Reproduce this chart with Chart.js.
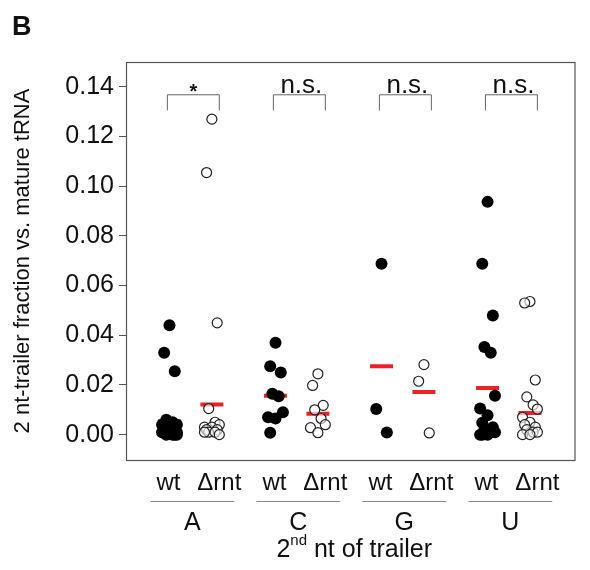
<!DOCTYPE html>
<html>
<head>
<meta charset="utf-8">
<script src="https://cdn.jsdelivr.net/npm/chart.js@4/dist/chart.umd.min.js"></script>
<style>
  body { margin: 0; background: #fff; }
  #wrap { width: 590px; height: 570px; }
</style>
</head>
<body>
<div id="wrap"><canvas id="chart" width="590" height="570"></canvas></div>
<script>
// Groups (2nd nt of trailer) and the two strains
const groups = ['A', 'C', 'G', 'U'];
const strains = ['wt', '\u0394rnt'];
const sigLabels = ['*', 'n.s.', 'n.s.', 'n.s.'];
const yTicks = [0, 0.02, 0.04, 0.06, 0.08, 0.10, 0.12, 0.14];

// Values
const aWt = [0.044, 0.033, 0.0255, 0.006, 0.005, 0.004, 0.004, 0.003, 0.003, 0.002, 0.002, 0.002, 0.001, 0.001, 0.001, 0.001, 0.000, 0.000, 0.000, 0.000];
const aRnt = [0.127, 0.1055, 0.045, 0.0105, 0.005, 0.004, 0.003, 0.003, 0.002, 0.002, 0.001, 0.001, 0.000, 0.001];
const cWt = [0.037, 0.0275, 0.025, 0.0165, 0.0155, 0.009, 0.007, 0.0065, 0.0008];
const cRnt = [0.0245, 0.0198, 0.0118, 0.010, 0.0065, 0.004, 0.0028, 0.0008];
const gWt = [0.0688, 0.0103, 0.0009];
const gRnt = [0.0282, 0.0215, 0.0007];
const uWt = [0.0937, 0.0688, 0.048, 0.0353, 0.033, 0.0157, 0.0105, 0.0078, 0.0048, 0.003, 0.002, 0.001, 0.001, 0.000, 0.000, 0.000];
const uRnt = [0.0536, 0.053, 0.022, 0.0152, 0.012, 0.0103, 0.007, 0.005, 0.004, 0.003, 0.002, 0.001, 0.001, 0.000, 0.000];
const wtMeans = [0.0054, 0.0157, 0.0275, 0.0188];
const rntMeans = [0.0121, 0.0084, 0.0172, 0.0087];

const wtSeries = [aWt, cWt, gWt, uWt];
const rntSeries = [aRnt, cRnt, gRnt, uRnt];

const FONT = '"Liberation Sans", Arial, sans-serif';

// small fixed horizontal spread so overlapping dots stay visible
const spread = [0, -0.05, 0.05, -0.03, 0.03, 0.07, -0.07];
const OFF = 0.2;

function toPoints(series, side) {
    const pts = [];
    series.forEach((vals, g) => {
        vals.forEach((v, i) => {
            pts.push({ x: g + 1 + side * OFF + spread[i % spread.length], y: v });
        });
    });
    return pts;
}

function meanPoints(means, side) {
    return means.map((m, g) => ({ x: g + 1 + side * OFF, y: m }));
}

// box, brackets, labels under the axis
const decor = {
    id: 'decor',
    afterDraw(chart) {
        const ctx = chart.ctx;
        const a = chart.chartArea;
        const xs = chart.scales.x;
        const ys = chart.scales.y;
        ctx.save();

        // plot frame
        ctx.strokeStyle = '#555';
        ctx.lineWidth = 1.2;
        ctx.strokeRect(a.left + 0.5, a.top + 0.5, a.right - a.left, a.bottom - a.top);

        // panel letter
        ctx.fillStyle = '#111';
        ctx.font = 'bold 27px ' + FONT;
        ctx.textAlign = 'left';
        ctx.textBaseline = 'alphabetic';
        ctx.fillText('B', 12, 35);

        // significance brackets
        groups.forEach((g, i) => {
            const x1 = xs.getPixelForValue(i + 1 - 0.22);
            const x2 = xs.getPixelForValue(i + 1 + 0.27);
            const yTop = ys.getPixelForValue(0.1368);
            const yBot = ys.getPixelForValue(0.1305);
            ctx.strokeStyle = '#666';
            ctx.lineWidth = 1;
            ctx.beginPath();
            ctx.moveTo(x1, yBot);
            ctx.lineTo(x1, yTop);
            ctx.lineTo(x2, yTop);
            ctx.lineTo(x2, yBot);
            ctx.stroke();
            ctx.fillStyle = '#111';
            ctx.textAlign = 'center';
            if (sigLabels[i] === '*') {
                ctx.font = 'bold 20px ' + FONT;
                ctx.fillText('*', (x1 + x2) / 2, yTop + 3);
            } else {
                ctx.font = '26px ' + FONT;
                ctx.fillText(sigLabels[i], (x1 + x2) / 2 + 2, yTop - 2);
            }
        });

        // strain labels, group lines and group letters
        ctx.fillStyle = '#111';
        ctx.textAlign = 'center';
        groups.forEach((g, i) => {
            ctx.font = '24px ' + FONT;
            ctx.fillText(strains[0], xs.getPixelForValue(i + 1 - 0.21), 490);
            ctx.fillText(strains[1], xs.getPixelForValue(i + 1 + 0.27), 490);
            const l1 = xs.getPixelForValue(i + 1 - 0.38);
            const l2 = xs.getPixelForValue(i + 1 + 0.41);
            ctx.strokeStyle = '#888';
            ctx.lineWidth = 1;
            ctx.beginPath();
            ctx.moveTo(l1, 501.5);
            ctx.lineTo(l2, 501.5);
            ctx.stroke();
            ctx.font = '25px ' + FONT;
            ctx.fillText(g, (l1 + l2) / 2, 530);
        });

        // x axis title with superscript
        const t1 = '2', sup = 'nd', t2 = ' nt of trailer';
        ctx.font = '25px ' + FONT;
        const w1 = ctx.measureText(t1).width;
        const w2 = ctx.measureText(t2).width;
        ctx.font = '15px ' + FONT;
        const ws = ctx.measureText(sup).width;
        const cx = (a.left + a.right) / 2 + 4;
        let x = cx - (w1 + ws + w2) / 2;
        ctx.textAlign = 'left';
        ctx.font = '25px ' + FONT;
        ctx.fillText(t1, x, 557);
        x += w1;
        ctx.font = '15px ' + FONT;
        ctx.fillText(sup, x, 545);
        x += ws;
        ctx.font = '25px ' + FONT;
        ctx.fillText(t2, x, 557);

        ctx.restore();
    }
};

const ctx = document.getElementById('chart').getContext('2d');

new Chart(ctx, {
    type: 'scatter',
    data: {
        datasets: [
            {
                label: 'wt',
                data: toPoints(wtSeries, -1),
                backgroundColor: '#000',
                borderColor: '#000',
                pointRadius: 6,
                pointBorderWidth: 0
            },
            {
                label: '\u0394rnt',
                data: toPoints(rntSeries, 1),
                backgroundColor: 'rgba(255,255,255,0.6)',
                borderColor: '#222',
                pointRadius: 5,
                pointBorderWidth: 1.2
            },
            {
                label: 'wt mean',
                data: meanPoints(wtMeans, -1),
                pointStyle: 'line',
                borderColor: '#ee2222',
                pointRadius: 11.5,
                pointBorderWidth: 4
            },
            {
                label: '\u0394rnt mean',
                data: meanPoints(rntMeans, 1),
                pointStyle: 'line',
                borderColor: '#ee2222',
                pointRadius: 11.5,
                pointBorderWidth: 4
            }
        ]
    },
    options: {
        responsive: false,
        animation: false,
        layout: { padding: { top: 62, right: 6, bottom: 110, left: 0 } },
        plugins: {
            legend: { display: false },
            tooltip: { enabled: false }
        },
        scales: {
            x: {
                type: 'linear',
                min: 0.39,
                max: 4.62,
                display: false
            },
            y: {
                min: -0.0102,
                max: 0.15,
                afterBuildTicks: (scale) => {
                    scale.ticks = yTicks.map(v => ({ value: v }));
                },
                afterFit: (scale) => { scale.width = 126; },
                grid: {
                    display: true,
                    drawOnChartArea: false,
                    drawTicks: true,
                    tickLength: 7,
                    color: '#555'
                },
                border: { display: false },
                ticks: {
                    color: '#111',
                    padding: 5,
                    autoSkip: false,
                    font: { size: 25, family: FONT },
                    callback: (v) => v.toFixed(2)
                },
                title: {
                    display: true,
                    text: '2 nt-trailer fraction vs. mature tRNA',
                    color: '#111',
                    padding: { top: 10, bottom: 0 },
                    font: { size: 22, family: FONT }
                }
            }
        }
    },
    plugins: [decor]
});
</script>
</body>
</html>
